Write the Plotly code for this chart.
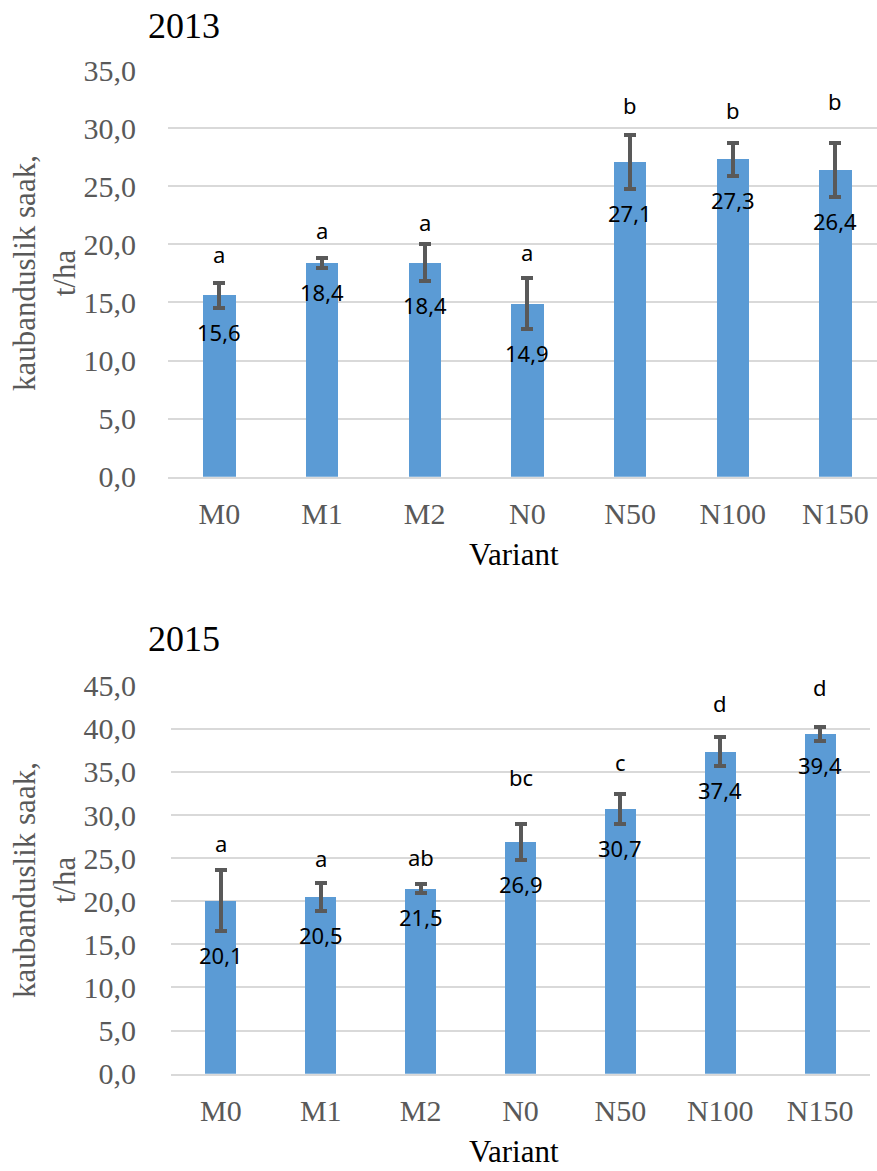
import plotly.graph_objects as go

# Variants (treatments)
variants = ["M0", "M1", "M2", "N0", "N50", "N100", "N150"]

# 2013: marketable yield, t/ha, with error bars and significance letters
yield_2013 = [15.6, 18.4, 18.4, 14.9, 27.1, 27.3, 26.4]
err_2013 = [1.1, 0.4, 1.6, 2.2, 2.3, 1.45, 2.3]
letters_2013 = ["a", "a", "a", "a", "b", "b", "b"]
letter_y_2013 = [19.2, 21.2, 21.95, 19.36, 32.0, 31.6, 32.35]

# 2015
yield_2015 = [20.1, 20.5, 21.5, 26.9, 30.7, 37.4, 39.4]
err_2015 = [3.5, 1.6, 0.5, 2.1, 1.7, 1.7, 0.8]
letters_2015 = ["a", "a", "ab", "bc", "c", "d", "d"]
letter_y_2015 = [26.73, 24.99, 25.17, 34.39, 36.2, 42.97, 44.9]

W, H = 877, 1171
BAR = "#5B9BD5"
ERR = "#595959"
GRID = "#D9D9D9"
GREY = "#595959"
SERIF = "Liberation Serif, Times New Roman, serif"
SANS = "Noto Sans, Open Sans, sans-serif"


def fmt(v):
    return f"{v:.1f}".replace(".", ",")


def py(px):
    return 1 - px / H


fig = go.Figure()

panels = [
    dict(vals=yield_2013, errs=err_2013, letters=letters_2013, ly=letter_y_2013,
         xa="x", ya="y", width=0.315),
    dict(vals=yield_2015, errs=err_2015, letters=letters_2015, ly=letter_y_2015,
         xa="x2", ya="y2", width=0.31),
]

annotations = []
for p in panels:
    fig.add_trace(go.Bar(
        x=variants, y=p["vals"], width=p["width"],
        marker=dict(color=BAR, line=dict(width=0)),
        error_y=dict(type="data", array=p["errs"], visible=True,
                     color=ERR, thickness=4, width=6),
        xaxis=p["xa"], yaxis=p["ya"], showlegend=False,
    ))
    for v, e, lab, ly, cat in zip(p["vals"], p["errs"], p["letters"], p["ly"], variants):
        # value label below the lower whisker
        annotations.append(dict(
            x=cat, y=v - e, xref=p["xa"], yref=p["ya"], text=fmt(v),
            showarrow=False, yanchor="middle", yshift=-24,
            font=dict(family=SANS, size=22, color="black"),
        ))
        # significance letter
        annotations.append(dict(
            x=cat, y=ly, xref=p["xa"], yref=p["ya"], text=lab,
            showarrow=False, yanchor="middle",
            font=dict(family=SANS, size=22, color="black"),
        ))

# Panel titles and y-axis titles
for title, ty, ycenter in [("2013", 26, 273), ("2015", 639, 880)]:
    annotations.append(dict(
        x=146 / W, y=py(ty), xref="paper", yref="paper", text=title,
        showarrow=False, xanchor="left", yanchor="middle",
        font=dict(family=SERIF, size=36, color="black"),
    ))
    annotations.append(dict(
        x=44 / W, y=py(ycenter), xref="paper", yref="paper",
        text="kaubanduslik saak,<br>t/ha", textangle=-90,
        showarrow=False, xanchor="center", yanchor="middle",
        font=dict(family=SERIF, size=31, color=GREY),
    ))

# x-axis titles
annotations.append(dict(
    x=514 / W, y=py(555), xref="paper", yref="paper", text="Variant",
    showarrow=False, xanchor="center", yanchor="middle",
    font=dict(family=SERIF, size=31, color="black"),
))
annotations.append(dict(
    x=514 / W, y=0, xref="paper", yref="paper", text="Variant",
    showarrow=False, xanchor="center", yanchor="bottom",
    font=dict(family=SERIF, size=31, color="black"),
))

tickfont = dict(family=SERIF, size=30, color=GREY)

xaxis_common = dict(
    type="category", tickfont=tickfont, showgrid=False, zeroline=False,
    showline=True, linecolor=GRID, linewidth=2, automargin=False,
    ticks="outside", ticklen=9, tickcolor="rgba(0,0,0,0)",
)
yaxis_common = dict(
    tickfont=tickfont, showgrid=True, gridcolor=GRID, gridwidth=2,
    zeroline=False, showline=False, dtick=5, tickformat=".1f", automargin=False,
    ticks="outside", tickcolor="rgba(0,0,0,0)",
)

fig.update_layout(
    width=W, height=H,
    autosize=False,
    margin=dict(l=0, r=0, t=0, b=0, pad=0, autoexpand=False),
    paper_bgcolor="white", plot_bgcolor="white",
    separators=", ",
    bargap=0,
    xaxis=dict(**xaxis_common, domain=[168 / W, 1.0], range=[-0.5, 6.405], anchor="y"),
    yaxis=dict(**yaxis_common, domain=[py(476.7), py(70)], range=[0, 35],
               ticklen=25, anchor="x"),
    xaxis2=dict(**xaxis_common, domain=[171 / W, 870 / W], range=[-0.5, 6.5], anchor="y2"),
    yaxis2=dict(**yaxis_common, domain=[py(1073.7), py(685.7)], range=[0, 45],
                ticklen=28, anchor="x2"),
    annotations=annotations,
)

fig.write_html("out.html")
